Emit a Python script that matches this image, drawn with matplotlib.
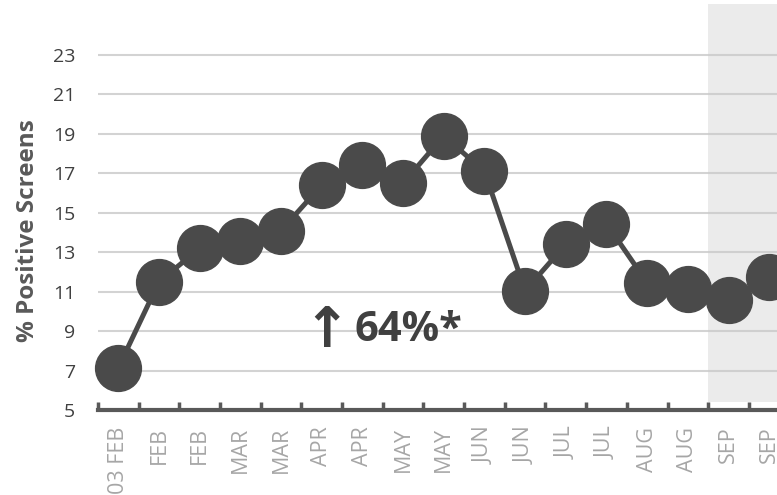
import matplotlib
matplotlib.use("Agg")
import matplotlib.pyplot as plt

# data
labels = ["03 FEB", "FEB", "FEB", "MAR", "MAR", "APR", "APR", "MAY", "MAY",
          "JUN", "JUN", "JUL", "JUL", "AUG", "AUG", "SEP", "SEP"]
values = [7.15, 11.5, 13.2, 13.55, 14.1, 16.4, 17.4, 16.5, 18.9,
          17.1, 11.05, 13.4, 14.45, 11.45, 11.15, 10.6, 11.75]
yticks = [5, 7, 9, 11, 13, 15, 17, 19, 21, 23]
shade_start = 14.5

plt.rcParams["font.family"] = ["Open Sans", "DejaVu Sans"]

fig = plt.figure(figsize=(7.77, 4.95), dpi=100)
ax = fig.add_axes([98 / 777, 85 / 495, 1 - 98 / 777, 374.7 / 495])
ax.patch.set_alpha(0)

x = list(range(len(values)))

# gray shaded period at the right
ax.axvspan(shade_start, 30, ymin=0.0213, ymax=1.0835, color="#ebebeb",
           zorder=0, clip_on=False, lw=0)

for t in yticks[1:]:
    ax.axhline(t, color="#c8c8c8", lw=1.5, alpha=0.8, zorder=1)

ax.plot(x, values, color="#4a4a4a", lw=3.6, marker="o", markersize=33,
        markerfacecolor="#4a4a4a", markeredgecolor="#4a4a4a",
        zorder=3, clip_on=False)

ax.set_yticks(yticks)
ax.set_yticklabels([str(t) for t in yticks], fontsize=14, color="#404040")
ax.tick_params(axis="y", length=0, pad=16.5)

ax.set_xticks([i + 0.5 for i in range(-1, len(values))], minor=False)
ax.set_xticklabels([])
ax.set_xticks(x, minor=True)
ax.set_xticklabels(labels, minor=True, rotation=90, fontsize=15.5,
                   color="#a6a6a6", va="top", ha="center")
ax.tick_params(axis="x", which="major", direction="in", length=6, width=2.5,
               color="#595959")
ax.tick_params(axis="x", which="minor", length=0, pad=12)

ax.set_xlim(-0.5, (777 - 118) / 40.7)
ax.set_ylim(5, 24)

for s in ["top", "right", "left"]:
    ax.spines[s].set_visible(False)
ax.spines["bottom"].set_color("#595959")
ax.spines["bottom"].set_linewidth(3)

ax.set_ylabel("% Positive Screens", fontsize=17.5, fontweight="bold",
              color="#595959", va="center")
ax.yaxis.set_label_coords(-0.103, 0.48)

ax.text(5.13, 8.95, "↑", fontsize=40, fontweight="bold",
        color="#404040", ha="center", va="center",
        family=["DejaVu Sans"], zorder=4)
ax.text(7.13, 9.05, "64%*", fontsize=30, fontweight="bold",
        color="#404040", ha="center", va="center", zorder=4)

fig.savefig("out.png", dpi=100)
